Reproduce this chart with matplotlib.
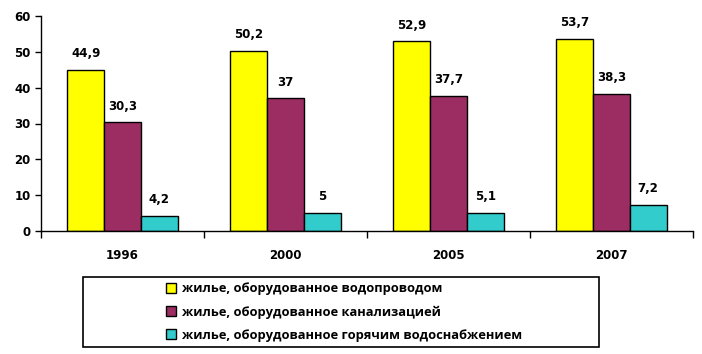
import matplotlib
matplotlib.use("Agg")
import matplotlib.pyplot as plt
from matplotlib.patches import Rectangle
import numpy as np

years = ["1996", "2000", "2005", "2007"]
series_names = [
    "жилье, оборудованное водопроводом",
    "жилье, оборудованное канализацией",
    "жилье, оборудованное горячим водоснабжением",
]
water = [44.9, 50.2, 52.9, 53.7]
sewer = [30.3, 37, 37.7, 38.3]
hotwater = [4.2, 5, 5.1, 7.2]
colors = ["#FFFF00", "#9B2D62", "#33CCCC"]

W, H = 702, 354
fig = plt.figure(figsize=(W/100, H/100), dpi=100)
ax = fig.add_axes([41/W, 1-231/H, (693-41)/W, (231-16)/H])

x = np.arange(len(years))
w = 0.225
for i, (vals, c, name) in enumerate(zip([water, sewer, hotwater], colors, series_names)):
    pos = x + (i - 1) * w
    ax.bar(pos, vals, width=w, color=c, edgecolor="black", linewidth=1.0, label=name)
    for p, v in zip(pos, vals):
        lbl = ("%g" % v).replace(".", ",")
        ax.annotate(lbl, (p, v), xytext=(0, 7), textcoords="offset points",
                    ha="center", va="bottom", fontsize=8.5, fontweight="bold",
                    family="DejaVu Sans")

ax.set_xlim(-0.5, len(years) - 0.5)
ax.set_ylim(0, 60)
ax.set_yticks(range(0, 61, 10))
ax.set_xticks(np.arange(-0.5, len(years), 1.0))
ax.set_xticklabels([])
ax.set_xticks(x, minor=True)
ax.set_xticklabels(years, minor=True)
ax.tick_params(axis="x", which="minor", length=0, pad=13, labelsize=8.5)
ax.tick_params(axis="x", which="major", length=5, width=1, direction="out")
ax.tick_params(axis="y", length=4, width=1, labelsize=8.5)
for lab in ax.get_xticklabels(minor=True) + ax.get_yticklabels():
    lab.set_fontweight("bold")
ax.spines["top"].set_visible(False)
ax.spines["right"].set_visible(False)
ax.spines["left"].set_linewidth(1)
ax.spines["bottom"].set_linewidth(1)

# legend frame
fig.patches.append(Rectangle((83/W, 1-347/H), (599-83)/W, 70/H, transform=fig.transFigure,
                             fill=False, edgecolor="black", linewidth=1.2))
leg = fig.legend(loc="center left", bbox_to_anchor=(166/W, 1-312/H),
                 frameon=False,
                 prop={"family": "Open Sans", "weight": "bold", "size": 9.3},
                 handlelength=0.75, handleheight=0.75, handletextpad=0.45,
                 labelspacing=0.78, borderpad=0.0, borderaxespad=0)

fig.savefig("out.png", dpi=100)
